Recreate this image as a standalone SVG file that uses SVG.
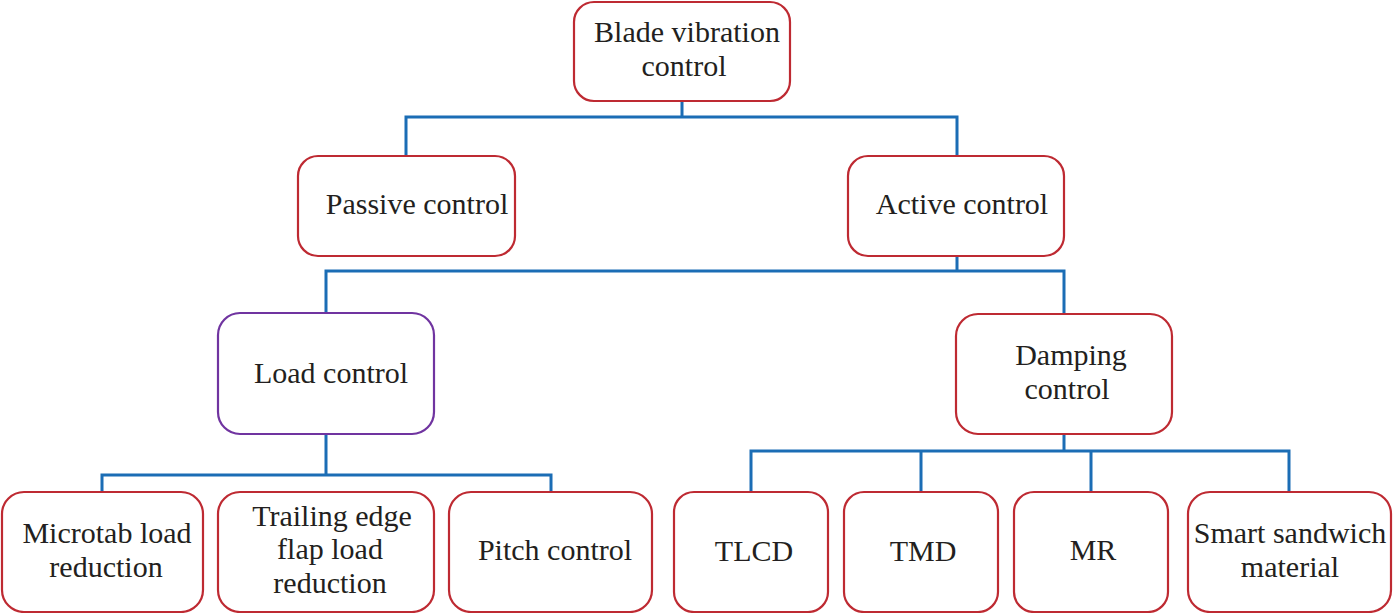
<svg xmlns="http://www.w3.org/2000/svg" width="1395" height="613" viewBox="0 0 1395 613">
<style>
.box{fill:#fff;stroke:#BE2A32;stroke-width:2.2}
.pbox{fill:#fff;stroke:#7034A0;stroke-width:2.2}
.conn{fill:none;stroke:#1B6DB5;stroke-width:3;stroke-linejoin:miter;stroke-linecap:butt}
text{font-family:"Liberation Serif","Times New Roman",serif;font-size:30px;fill:#231F20;text-anchor:middle}
</style>
<rect width="1395" height="613" fill="#fff"/>
<g id="connectors">
<path class="conn" d="M682 101V117M406 156V117H957V156"/>
<path class="conn" d="M957 256V271M326 313V271H1064V314"/>
<path class="conn" d="M326 434V475M102 492V475H551V492"/>
<path class="conn" d="M1064 434V451M751 492V451H1289V492M921 451V492M1091 451V492"/>
</g>
<g id="n-blade"><rect class="box" x="574" y="2" width="216" height="99" rx="20"/><text x="687" y="42">Blade vibration</text><text x="684" y="76">control</text></g>
<g id="n-passive"><rect class="box" x="298" y="156" width="217" height="100" rx="20"/><text x="417" y="214">Passive control</text></g>
<g id="n-active"><rect class="box" x="848" y="156" width="216" height="100" rx="20"/><text x="962" y="214">Active control</text></g>
<g id="n-load"><rect class="pbox" x="218" y="313" width="216" height="121" rx="22"/><text x="331" y="383">Load control</text></g>
<g id="n-damping"><rect class="box" x="956" y="314" width="216" height="120" rx="22"/><text x="1071" y="365">Damping</text><text x="1067" y="399">control</text></g>
<g id="n-microtab"><rect class="box" x="2" y="492" width="201" height="120" rx="22"/><text x="107" y="543">Microtab load</text><text x="106" y="577">reduction</text></g>
<g id="n-trailing"><rect class="box" x="218" y="492" width="216" height="120" rx="22"/><text x="332" y="526">Trailing edge</text><text x="330" y="559">flap load</text><text x="330" y="593">reduction</text></g>
<g id="n-pitch"><rect class="box" x="449" y="492" width="203" height="120" rx="22"/><text x="555" y="560">Pitch control</text></g>
<g id="n-tlcd"><rect class="box" x="674" y="492" width="154" height="120" rx="20"/><text x="754" y="561">TLCD</text></g>
<g id="n-tmd"><rect class="box" x="844" y="492" width="154" height="120" rx="20"/><text x="923" y="561">TMD</text></g>
<g id="n-mr"><rect class="box" x="1014" y="492" width="154" height="120" rx="20"/><text x="1093" y="560">MR</text></g>
<g id="n-smart"><rect class="box" x="1188" y="492" width="203" height="120" rx="22"/><text x="1290" y="543">Smart sandwich</text><text x="1290" y="577">material</text></g>
</svg>
